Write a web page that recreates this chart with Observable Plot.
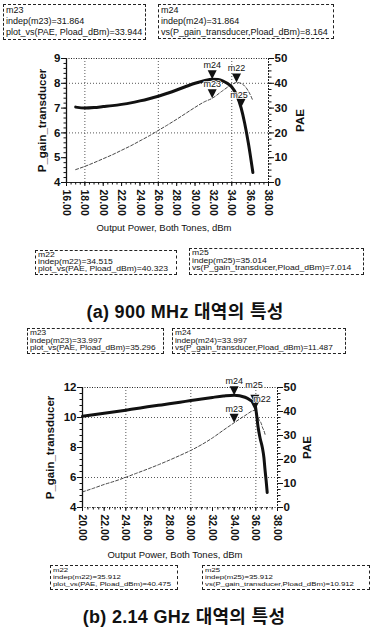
<!DOCTYPE html>
<html><head><meta charset="utf-8">
<script src="https://cdn.jsdelivr.net/npm/d3@7"></script>
<script src="https://cdn.jsdelivr.net/npm/@observablehq/plot@0.6"></script>
<style>
body{margin:0;background:#fff;}
#page{position:relative;width:371px;height:639px;overflow:hidden;font-family:"Liberation Sans",Arial,sans-serif;color:#111;background:#fff}
.box{position:absolute;border:1px dashed #222;padding:0 2px;white-space:nowrap;box-sizing:border-box;overflow:hidden;background:#fff}
.box .in{transform-origin:0 0}
.xlab{position:absolute;font-size:9.5px;text-align:center;white-space:nowrap}
.title{position:absolute;text-align:center;font-family:"Liberation Sans","Noto Sans CJK KR",sans-serif;font-weight:700;font-size:18px;white-space:nowrap;letter-spacing:0.3px}
.chart{position:absolute;left:0}
</style></head><body><div id="page"></div>
<script>
// ---------- (a) 900 MHz ----------
const aGainX = [17, 18, 19, 20, 21, 22, 23, 24, 25, 26, 27, 28, 29, 30, 31, 31.864, 32.5, 33, 33.5, 34, 34.5, 35.014, 35.4, 35.8, 36.1, 36.3];
const aGain  = [7.04, 7.00, 7.02, 7.06, 7.10, 7.15, 7.21, 7.29, 7.38, 7.48, 7.60, 7.73, 7.87, 8.00, 8.10, 8.164, 8.15, 8.10, 8.00, 7.85, 7.55, 7.014, 6.40, 5.60, 4.90, 4.40];
const aPaeX  = [17, 18, 19, 20, 21, 22, 23, 24, 25, 26, 27, 28, 29, 30, 31, 31.864, 33, 34, 34.515, 35, 35.5, 36, 36.3];
const aPae   = [5.2, 6.5, 8.0, 9.6, 11.2, 13.0, 14.8, 16.8, 18.8, 21.0, 23.2, 25.5, 27.9, 30.3, 32.5, 33.944, 37.0, 39.5, 40.323, 40.0, 38.5, 35.5, 33.0];
const aMarkName   = ["m23", "m24", "m22", "m25"];
const aMarkSeries = ["PAE", "gain", "PAE", "gain"];
const aMarkX      = [31.864, 31.864, 34.515, 35.014];
const aMarkVal    = [33.944, 8.164, 40.323, 7.014];
const aXTicks = [16, 18, 20, 22, 24, 26, 28, 30, 32, 34, 36, 38];
const aYTicks = [4, 5, 6, 7, 8, 9];
const aTitle = "(a) 900 MHz 대역의 특성";

// ---------- (b) 2.14 GHz ----------
const bGainX = [20, 21, 22, 23, 24, 25, 26, 27, 28, 29, 30, 31, 32, 33, 33.997, 35, 35.5, 35.912, 36.05, 36.2, 36.4, 36.6, 36.75, 36.85, 36.95, 37.05];
const bGain  = [10.08, 10.18, 10.28, 10.38, 10.49, 10.60, 10.71, 10.81, 10.91, 11.02, 11.13, 11.24, 11.34, 11.43, 11.487, 11.35, 11.15, 10.912, 10.3, 9.4, 8.6, 8.0, 7.3, 6.5, 5.8, 5.0];
const bPaeX  = [20, 21, 22, 23, 24, 25, 26, 27, 28, 29, 30, 31, 32, 33, 33.997, 35, 35.912, 36.1, 36.3, 36.5, 36.6, 36.75, 36.85];
const bPae   = [6.5, 8.0, 9.6, 11.0, 12.6, 14.3, 16.0, 17.8, 19.7, 21.7, 23.8, 26.2, 29.0, 32.2, 35.296, 38.3, 40.475, 39.0, 36.5, 35.0, 33.5, 32.0, 30.5];
const bMarkName   = ["m23", "m24", "m22", "m25"];
const bMarkSeries = ["PAE", "gain", "PAE", "gain"];
const bMarkX      = [33.997, 33.997, 35.912, 35.912];
const bMarkVal    = [35.296, 11.487, 40.475, 10.912];
const bXTicks = [20, 22, 24, 26, 28, 30, 32, 34, 36, 38];
const bYTicks = [4, 6, 8, 10, 12];
const bTitle = "(b) 2.14 GHz 대역의 특성";

const paeTicks = [0, 10, 20, 30, 40, 50];
const xLabel = "Output Power, Both Tones, dBm";
const yLabel = "P_gain_transducer";
const y2Label = "PAE";

const downTri = {draw(ctx, size) {
  const r = Math.sqrt(size / Math.PI);
  ctx.moveTo(0, 0); ctx.lineTo(-r, -2 * r); ctx.lineTo(r, -2 * r); ctx.closePath();
}};

function makeChart(o) {
  const [y0, y1] = o.yDomain;
  const toY = p => y0 + p / 50 * (y1 - y0);
  const gainData = o.gx.map((x, i) => ({x, v: o.gv[i]}));
  const paeData = o.px.map((x, i) => ({x, v: o.pv[i]}));
  const lo = o.labelOff || {};
  const mk = o.mName.map((n, i) => ({name: n, x: o.mX[i], y: o.mS[i] === "PAE" ? toY(o.mV[i]) : o.mV[i],
    dx: (lo[n] || [0, -14])[0], dy: (lo[n] || [0, -14])[1]}));
  const font = "Liberation Sans, Arial, sans-serif";
  return Plot.plot({
    width: 371, height: o.h,
    marginLeft: o.ml, marginRight: o.mr, marginTop: o.mt, marginBottom: o.mb,
    x: {domain: o.xDomain},
    y: {domain: o.yDomain},
    style: {fontFamily: font, color: "#111", background: "transparent", overflow: "visible"},
    marks: [
      Plot.ruleX(o.xGrid, {stroke: "#444", strokeDasharray: "1,2", strokeWidth: 0.9}),
      Plot.ruleY(o.yGrid, {stroke: "#444", strokeDasharray: "1,2", strokeWidth: 0.9}),
      Plot.ruleY([y1], {stroke: "#222", strokeDasharray: "1,1.5"}),
      Plot.ruleY([y0], {stroke: "#222", strokeDasharray: o.bottomDash}),
      Plot.ruleX([o.xDomain[0]], {stroke: "#111", strokeWidth: 1.3}),
      Plot.ruleX([o.xDomain[1]], {stroke: "#222", strokeDasharray: "2,1"}),
      Plot.line(paeData, {x: "x", y: d => toY(d.v), stroke: "#333", strokeWidth: 0.9, strokeDasharray: "3,2", curve: "monotone-x"}),
      Plot.line(gainData, {x: "x", y: "v", stroke: "#111", strokeWidth: 3, curve: "monotone-x"}),
      Plot.dot(mk, {x: "x", y: "y", symbol: downTri, r: 4.5, fill: "#111", stroke: "none"}),
      ...mk.map(m => Plot.text([m], {x: "x", y: "y", text: "name", dx: m.dx, dy: m.dy, fontSize: 9, fill: "#111", stroke: "white", strokeWidth: 1.5, paintOrder: "stroke"})),
      Plot.axisX(o.xTicks, {anchor: "bottom", tickFormat: d => d.toFixed(2), tickRotate: 90, tickSize: 4, tickPadding: 3, fontSize: 10.5, fontWeight: "bold", label: null}),
      Plot.axisX(d3.range(o.xDomain[0], o.xDomain[1] + 0.01, 0.5), {anchor: "bottom", tickSize: 2.5, tickFormat: () => "", label: null}),
      Plot.axisY(o.yTicks, {anchor: "left", tickSize: 5, tickPadding: 1, fontSize: 11.5, fontWeight: "bold",
        label: yLabel, labelAnchor: "center", labelArrow: "none", labelOffset: o.yLabOff}),
      Plot.axisY(d3.range(y0, y1 + 0.001, o.yMinor), {anchor: "left", tickSize: 2.5, tickFormat: () => "", label: null}),
      Plot.axisY(paeTicks.map(toY), {anchor: "right", tickSize: 5, tickPadding: 1, fontSize: 11.5, fontWeight: "bold",
        tickFormat: d => Math.round((d - y0) / (y1 - y0) * 50),
        label: y2Label, labelAnchor: "center", labelArrow: "none", labelOffset: o.y2LabOff}),
      Plot.axisY(d3.range(0, 50.01, 2.5).map(toY), {anchor: "right", tickSize: 2.5, tickFormat: () => "", label: null})
    ]
  });
}

const page = document.getElementById("page");
function place(el, left, top) { el.style.left = left + "px"; el.style.top = top + "px"; page.appendChild(el); }
function box(lines, left, top, w, h, fs, lh, sy) {
  const d = document.createElement("div");
  d.className = "box";
  d.style.width = w + "px"; d.style.height = h + "px";
  d.style.fontSize = fs + "px"; d.style.lineHeight = lh + "px";
  d.innerHTML = `<div class="in" style="transform:scaleY(${sy})">` + lines.map(s => `<div>${s}</div>`).join("") + `</div>`;
  place(d, left, top);
}
function markerLines(names, series, xs, vals, i) {
  const fn = series[i] === "PAE" ? "plot_vs(PAE, Pload_dBm)" : "vs(P_gain_transducer,Pload_dBm)";
  return [names[i], `indep(${names[i]})=${xs[i].toFixed(3)}`, `${fn}=${vals[i].toFixed(3)}`];
}
function label(text, cls, cx, top, w) {
  const d = document.createElement("div");
  d.className = cls; d.textContent = text; d.style.width = w + "px";
  place(d, cx - w / 2, top);
}

// (a)
box(markerLines(aMarkName, aMarkSeries, aMarkX, aMarkVal, 0), 3, 4, 143, 36, 9, 11, 1);
box(markerLines(aMarkName, aMarkSeries, aMarkX, aMarkVal, 1), 158, 4, 176, 35, 9, 11, 1);
const ca = makeChart({gx: aGainX, gv: aGain, px: aPaeX, pv: aPae, mName: aMarkName, mS: aMarkSeries, mX: aMarkX, mV: aMarkVal,
  xDomain: [16, 38], yDomain: [4, 9], xTicks: aXTicks, yTicks: aYTicks, yMinor: 0.2,
  xGrid: [18, 26, 34], yGrid: [6, 8], bottomDash: null,
  labelOff: {m25: [-2, -13]},
  h: 180, ml: 66, mr: 103, mt: 13, mb: 43, yLabOff: 29, y2LabOff: 35});
ca.classList.add("chart"); place(ca, 0, 45);
label(xLabel, "xlab", 164, 222, 200);
box(markerLines(aMarkName, aMarkSeries, aMarkX, aMarkVal, 2), 35, 250, 142, 25, 8.6, 9, 0.8);
box(markerLines(aMarkName, aMarkSeries, aMarkX, aMarkVal, 3), 189, 248, 175, 27, 8.6, 9, 0.85);
label(aTitle, "title", 185, 297, 300);

// (b)
box(markerLines(bMarkName, bMarkSeries, bMarkX, bMarkVal, 0), 27, 328, 137, 26, 8.3, 9, 0.85);
box(markerLines(bMarkName, bMarkSeries, bMarkX, bMarkVal, 1), 172, 328, 174, 26, 8.3, 9, 0.85);
const cb = makeChart({gx: bGainX, gv: bGain, px: bPaeX, pv: bPae, mName: bMarkName, mS: bMarkSeries, mX: bMarkX, mV: bMarkVal,
  xDomain: [20, 38], yDomain: [4, 12], xTicks: bXTicks, yTicks: bYTicks, yMinor: 0.4,
  xGrid: [24, 30, 36], yGrid: [6, 10], bottomDash: "1,1.5",
  labelOff: {m25: [-1, -19], m22: [7, -11]},
  h: 170, ml: 82, mr: 94, mt: 12, mb: 38, yLabOff: 37, y2LabOff: 33});
cb.classList.add("chart"); place(cb, 0, 375);
label(xLabel, "xlab", 175, 549, 200);
box(markerLines(bMarkName, bMarkSeries, bMarkX, bMarkVal, 2), 50, 565, 128, 25, 7.8, 9, 0.8);
box(markerLines(bMarkName, bMarkSeries, bMarkX, bMarkVal, 3), 202, 565, 168, 25, 7.8, 9, 0.8);
label(bTitle, "title", 184, 602, 300);
</script>
</body></html>
